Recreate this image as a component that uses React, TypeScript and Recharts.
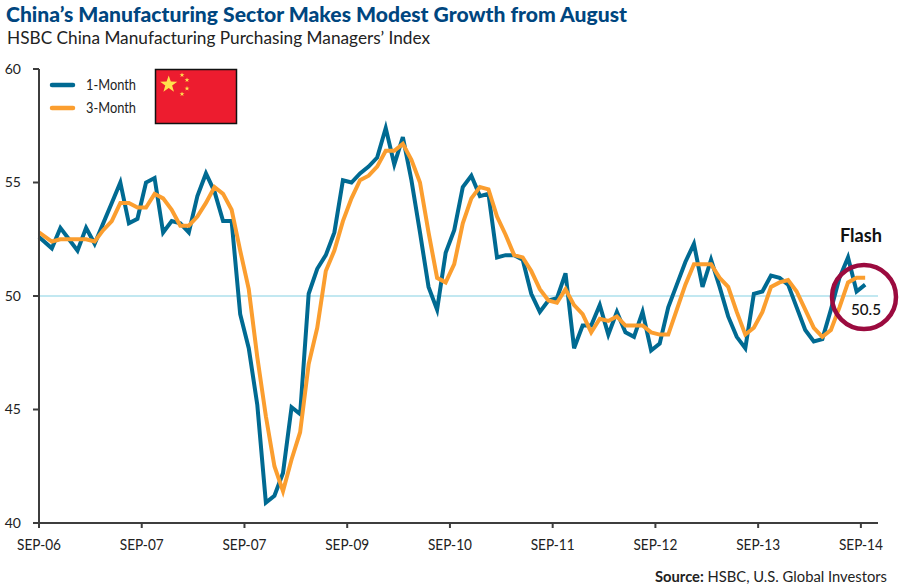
import { LineChart, Line, XAxis, YAxis, ReferenceLine } from 'recharts';

const oneMonth = [
  52.6, 52.1, 53.0, 52.5, 52.0, 53.0, 52.3, 53.2, 54.1, 55.0, 53.2, 53.4, 55.0, 55.2, 52.8, 53.3,
  53.2, 52.8, 54.4, 55.4, 54.6, 53.3, 53.3, 49.2, 47.7, 45.2, 40.9, 41.2, 42.2, 45.1, 44.8, 50.1,
  51.2, 51.8, 52.8, 55.1, 55.0, 55.4, 55.7, 56.1, 57.4, 55.8, 57.0, 55.1, 52.8, 50.4, 49.4, 51.9,
  52.9, 54.8, 55.3, 54.4, 54.5, 51.7, 51.8, 51.8, 51.6, 50.1, 49.3, 49.8, 49.9, 51.0, 47.7, 48.7,
  48.7, 49.6, 48.3, 49.3, 48.4, 48.2, 49.3, 47.6, 47.9, 49.5, 50.5, 51.5, 52.3, 50.4, 51.6, 50.4,
  49.1, 48.2, 47.7, 50.1, 50.2, 50.9, 50.8, 50.5, 49.5, 48.5, 48.0, 48.1, 49.4, 50.8, 51.7, 50.2,
  50.5,
];

const threeMonth = [
  52.8, 52.4, 52.5, 52.5, 52.5, 52.5, 52.4, 52.9, 53.3, 54.1, 54.1, 53.9, 53.9, 54.5, 54.3, 53.8,
  53.1, 53.1, 53.5, 54.1, 54.8, 54.5, 53.8, 52.0, 50.3, 47.3, 44.7, 42.5, 41.4, 42.8, 44.0, 47.0,
  48.6, 51.1, 52.0, 53.3, 54.3, 55.1, 55.3, 55.7, 56.4, 56.4, 56.7, 56.0, 55.0, 52.8, 50.8, 50.6,
  51.4, 53.2, 54.3, 54.8, 54.7, 53.5, 52.7, 51.8, 51.7, 51.1, 50.3, 49.8, 49.7, 50.3, 49.6, 49.2,
  48.4, 49.0, 48.9, 49.1, 48.7, 48.7, 48.7, 48.4, 48.3, 48.3, 49.4, 50.5, 51.4, 51.4, 51.4, 50.8,
  50.4, 49.3, 48.3, 48.6, 49.3, 50.4, 50.6, 50.7, 50.2, 49.4, 48.6, 48.2, 48.5, 49.5, 50.6, 50.8,
  50.8,
];

const xTickLabels = ['SEP-06', 'SEP-07', 'SEP-07', 'SEP-09', 'SEP-10', 'SEP-11', 'SEP-12', 'SEP-13', 'SEP-14'];
const xTicks = [0, 12, 24, 36, 48, 60, 72, 84, 96];
const yTicks = [40, 45, 50, 55, 60];

const BLUE = '#006a92';
const ORANGE = '#fb9e2f';
const FONT = 'Lato, "Open Sans", sans-serif';

const legendItems = [
  { label: '1-Month', color: BLUE, y: 85 },
  { label: '3-Month', color: ORANGE, y: 108 },
];

// first point sits on the axis, the rest are centred in their month band
const rows = oneMonth.map((v, i) => ({
  x: i === 0 ? 0 : i + 0.5,
  oneMonth: v,
  threeMonth: threeMonth[i],
}));

function starPoints(cx: number, cy: number, r: number) {
  const pts: string[] = [];
  for (let i = 0; i < 10; i++) {
    const rad = i % 2 === 0 ? r : r * 0.4;
    const a = -Math.PI / 2 + (i * Math.PI) / 5;
    pts.push(`${cx + rad * Math.cos(a)},${cy + rad * Math.sin(a)}`);
  }
  return pts.join(' ');
}

function XTick({ x, y, payload }: any) {
  return (
    <g>
      <text x={x} y={y + 20} textAnchor="middle" fontSize={14.5} fontFamily={FONT} fill="#222" textLength={44} lengthAdjust="spacingAndGlyphs">
        {xTickLabels[xTicks.indexOf(payload.value)]}
      </text>
    </g>
  );
}

export default function App() {
  return (
    <div style={{ position: 'absolute', left: 0, top: 0, width: 900, height: 588, background: '#fff', overflow: 'hidden' }}>
      <LineChart
        width={900}
        height={588}
        data={rows}
        margin={{ top: 69, right: 22, left: 0, bottom: 0 }}
      >
        <XAxis
          dataKey="x"
          type="number"
          domain={[0, 98]}
          ticks={xTicks}
          interval={0}
          height={65}
          tick={<XTick />}
          tickSize={5}
          stroke="#3d3d3d"
          strokeWidth={2}
        />
        <YAxis
          type="number"
          domain={[40, 60]}
          ticks={yTicks}
          width={39}
          tickSize={6}
          tickMargin={12}
          stroke="#3d3d3d"
          strokeWidth={2}
          tick={{ fill: '#222', fontSize: 14, fontFamily: FONT, strokeWidth: 0 }}
        />
        <ReferenceLine y={50} stroke="#aee0ec" strokeWidth={1.5} />
        <Line
          dataKey="oneMonth"
          stroke={BLUE}
          strokeWidth={4}
          dot={false}
          activeDot={false}
          isAnimationActive={false}
        />
        <Line
          dataKey="threeMonth"
          stroke={ORANGE}
          strokeWidth={4}
          dot={false}
          activeDot={false}
          isAnimationActive={false}
        />
      </LineChart>

      <svg width={900} height={588} style={{ position: 'absolute', left: 0, top: 0, pointerEvents: 'none' }}>
        <text x={6} y={22} fontSize={21} fontWeight={900} fontFamily={FONT} fill="#00467f" textLength={621} lengthAdjust="spacingAndGlyphs">
          China’s Manufacturing Sector Makes Modest Growth from August
        </text>
        <text x={7} y={44} fontSize={18} fontFamily={FONT} fill="#222" textLength={423} lengthAdjust="spacingAndGlyphs">
          HSBC China Manufacturing Purchasing Managers’ Index
        </text>

        {legendItems.map((item) => (
          <g key={item.label}>
            <line x1={52} x2={73} y1={item.y} y2={item.y} stroke={item.color} strokeWidth={4.5} strokeLinecap="round" />
            <text x={86} y={item.y + 5} fontSize={14.5} fontFamily={FONT} fill="#222" textLength={50} lengthAdjust="spacingAndGlyphs">{item.label}</text>
          </g>
        ))}

        <rect x={155.5} y={69.5} width={81} height={54} fill="#ed1c2f" stroke="#111" strokeWidth={1.5} />
        <polygon points={starPoints(168.7, 84.5, 9)} fill="#ffe14d" />
        <polygon points={starPoints(182, 75, 2.6)} fill="#ffe14d" />
        <polygon points={starPoints(187, 80, 2.6)} fill="#ffe14d" />
        <polygon points={starPoints(187, 88.5, 2.6)} fill="#ffe14d" />
        <polygon points={starPoints(182, 94, 2.6)} fill="#ffe14d" />

        <circle cx={864} cy={297} r={32} fill="none" stroke="#9b0b3f" strokeWidth={4.5} />
        <text x={861} y={242} textAnchor="middle" fontSize={18} fontWeight={700} fontFamily={FONT} fill="#111" textLength={42} lengthAdjust="spacingAndGlyphs">Flash</text>
        <text x={866} y={315} textAnchor="middle" fontSize={15.5} fontWeight={500} fontFamily={FONT} fill="#111" textLength={30} lengthAdjust="spacingAndGlyphs">50.5</text>

        <text x={655} y={582} fontSize={14.5} fontFamily={FONT} fill="#222" textLength={232} lengthAdjust="spacingAndGlyphs">
          <tspan fontWeight={700}>Source:</tspan> HSBC, U.S. Global Investors
        </text>
      </svg>
    </div>
  );
}
